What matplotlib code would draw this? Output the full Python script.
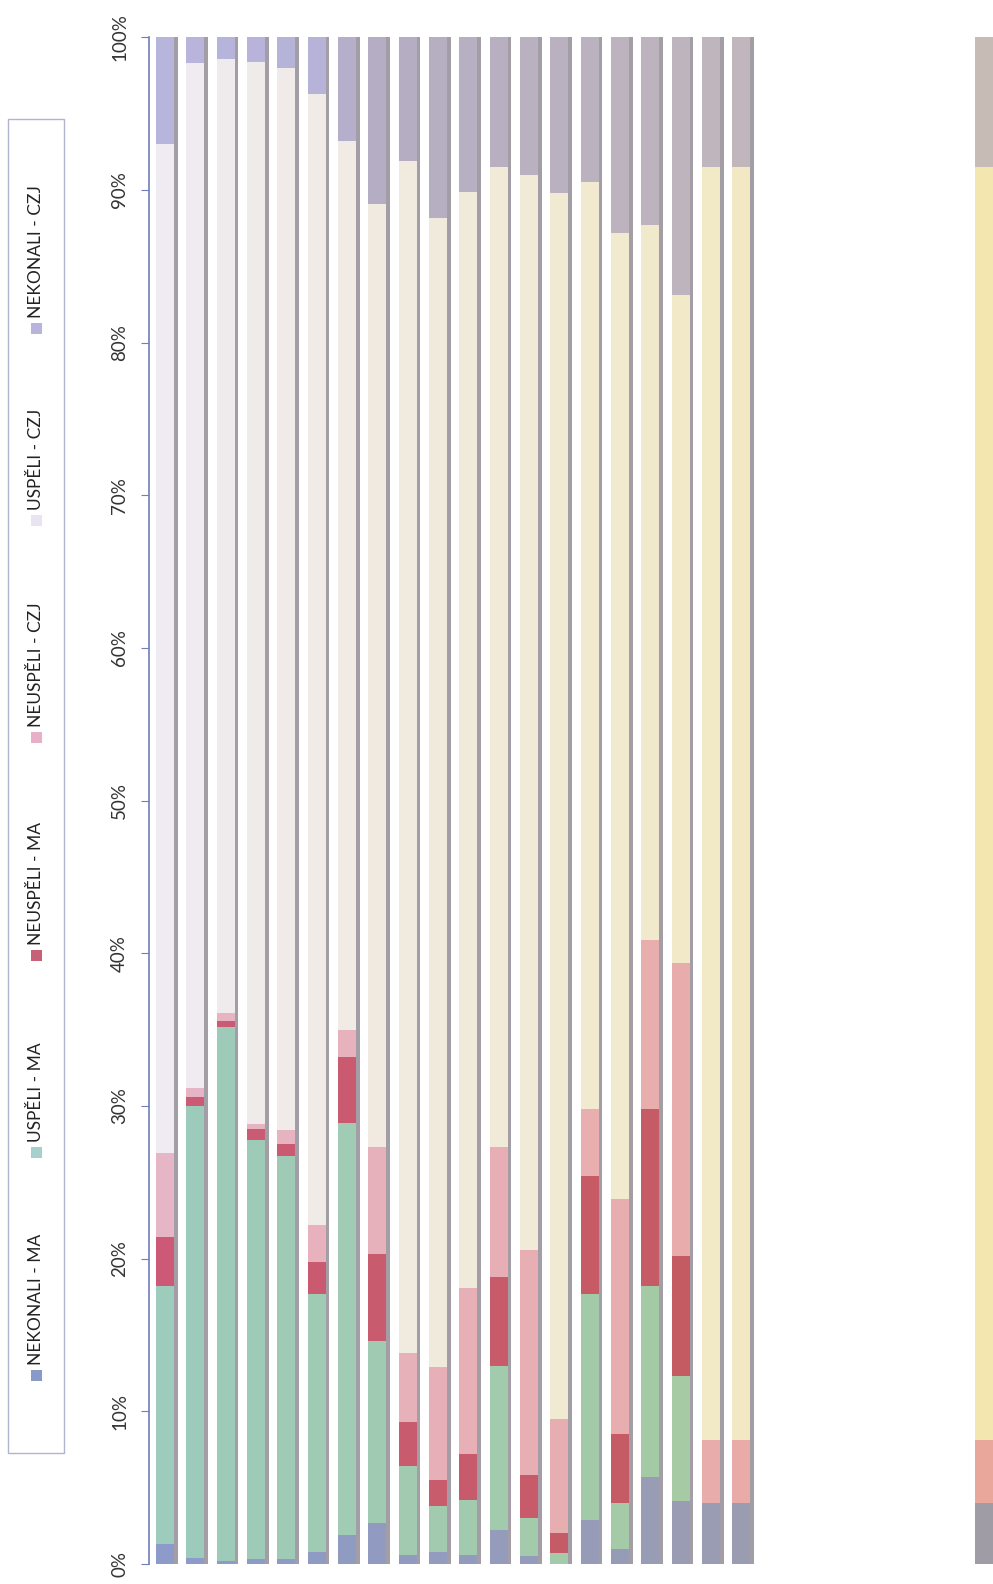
import matplotlib
matplotlib.use("Agg")
import matplotlib.pyplot as plt
import numpy as np
from matplotlib.patches import Rectangle

plt.rcParams['font.family'] = ['Lato', 'DejaVu Sans']

#----------------------- data (% per bar) -----------------------#
series = ["NEKONALI - MA", "USPĚLI - MA", "NEUSPĚLI - MA",
          "NEUSPĚLI - CZJ", "USPĚLI - CZJ", "NEKONALI - CZJ"]

nekonali_ma  = [1.3, 0.4, 0.2, 0.3, 0.3, 0.8, 1.9, 2.7, 0.6, 0.8, 0.6, 2.2, 0.5, 0.0, 2.9, 1.0, 5.7, 4.1, 4.0, 4.0, 4.0]
uspeli_ma    = [16.9, 29.6, 35.0, 27.5, 26.4, 16.9, 27.0, 11.9, 5.8, 3.0, 3.6, 10.8, 2.5, 0.7, 14.8, 3.0, 12.5, 8.2, 0.0, 0.0, 0.0]
neuspeli_ma  = [3.2, 0.6, 0.4, 0.7, 0.8, 2.1, 4.3, 5.7, 2.9, 1.7, 3.0, 5.8, 2.8, 1.3, 7.7, 4.5, 11.6, 7.9, 0.0, 0.0, 0.0]
neuspeli_czj = [5.5, 0.6, 0.5, 0.3, 0.9, 2.4, 1.8, 7.0, 4.5, 7.4, 10.9, 8.5, 14.8, 7.5, 4.4, 15.4, 11.1, 19.2, 4.1, 4.1, 4.1]
uspeli_czj   = [66.1, 67.1, 62.5, 69.6, 69.6, 74.1, 58.2, 61.8, 78.1, 75.3, 71.8, 64.2, 70.4, 80.3, 60.7, 63.3, 46.8, 43.7, 83.4, 83.4, 83.4]
nekonali_czj = [7.0, 1.7, 1.4, 1.6, 2.0, 3.7, 6.8, 10.9, 8.1, 11.8, 10.1, 8.5, 9.0, 10.2, 9.5, 12.8, 12.3, 16.9, 8.5, 8.5, 8.5]

values = [nekonali_ma, uspeli_ma, neuspeli_ma, neuspeli_czj, uspeli_czj, nekonali_czj]

# slot of each bar on the category axis (slots 20-26 are empty)
pos = np.array(list(range(20)) + [27])

# colours drift across the scanned page (stops along the x axis, 0..1)
col_stops = [
    [(0, "#8c9bca"), (1, "#a09ca6")],
    [(0, "#9dcbbc"), (1, "#a9c996")],
    [(0, "#cc5a76"), (1, "#c05c58")],
    [(0, "#e6b5c6"), (1, "#e9a79c")],
    [(0, "#efebf2"), (0.5, "#f1ead2"), (1, "#f3e6ae")],
    [(0, "#b8b5dd"), (0.19, "#b6b2d8"), (0.24, "#b4adc4"), (1, "#c7bbb6")],
]
legend_cols = ["#8a9ac8", "#a6d0cc", "#c8607a", "#e8b0c8", "#e8e4f0", "#b8b4dc"]

def hex2rgb(h):
    return np.array([int(h[i:i+2], 16) for i in (1, 3, 5)]) / 255.0

def drift(stops, t):
    xs = [s[0] for s in stops]
    cs = np.array([hex2rgb(s[1]) for s in stops])
    return tuple(np.interp(t, xs, cs[:, j]) for j in range(3))

#------------------------ plot ------------------------#
fig = plt.figure(figsize=(9.93, 15.84), dpi=100)
ax = fig.add_axes([149/993, 1-1564/1584, (993-149)/993, (1564-37.4)/1584])

t = pos / 27.0
ax.bar(pos + 0.12, 100, width=0.6, color="#a39ea6", zorder=1)  # scan shadow
bottom = np.zeros(len(pos))
for k in range(len(series)):
    cols = [drift(col_stops[k], ti) for ti in t]
    v = np.array(values[k])
    ax.bar(pos, v, bottom=bottom, width=0.6, color=cols, zorder=2)
    bottom += v

ax.set_xlim(-0.53, 27.3)
ax.set_ylim(0, 100)
for s in ["top", "right", "bottom"]:
    ax.spines[s].set_visible(False)
ax.spines["left"].set_color("#6f7fb8")
ax.spines["left"].set_linewidth(1.2)
ax.set_xticks([])
ax.set_yticks(np.arange(0, 101, 10))
ax.set_yticklabels([f"{v}%" for v in range(0, 101, 10)])
ax.tick_params(axis="y", direction="out", length=6, color="#6f7fb8",
               labelsize=13.5, labelcolor="#333333", pad=9)
for lab in ax.get_yticklabels():
    lab.set_rotation(90)
    lab.set_va("center")
    lab.set_ha("right")

# legend (rotated, drawn by hand)
W, H = 993.0, 1584.0
fig.patches.append(Rectangle((8/W, 1-1453/H), 56/W, (1453-119)/H, transform=fig.transFigure,
                             fill=False, edgecolor="#b0b4cc", lw=1.0))
sq_y = [1375, 1152, 955, 737, 520, 328]
for k in range(len(series)):
    fig.patches.append(Rectangle((31/W, 1-(sq_y[k]+5.5)/H), 11/W, 11/H, transform=fig.transFigure,
                                 facecolor=legend_cols[k], edgecolor="none"))
    fig.text(36/W, 1-(sq_y[k]-10)/H, series[k], rotation=90, ha="center", va="bottom",
             fontsize=12.5, color="#222222")

plt.savefig("out.png", dpi=100)
